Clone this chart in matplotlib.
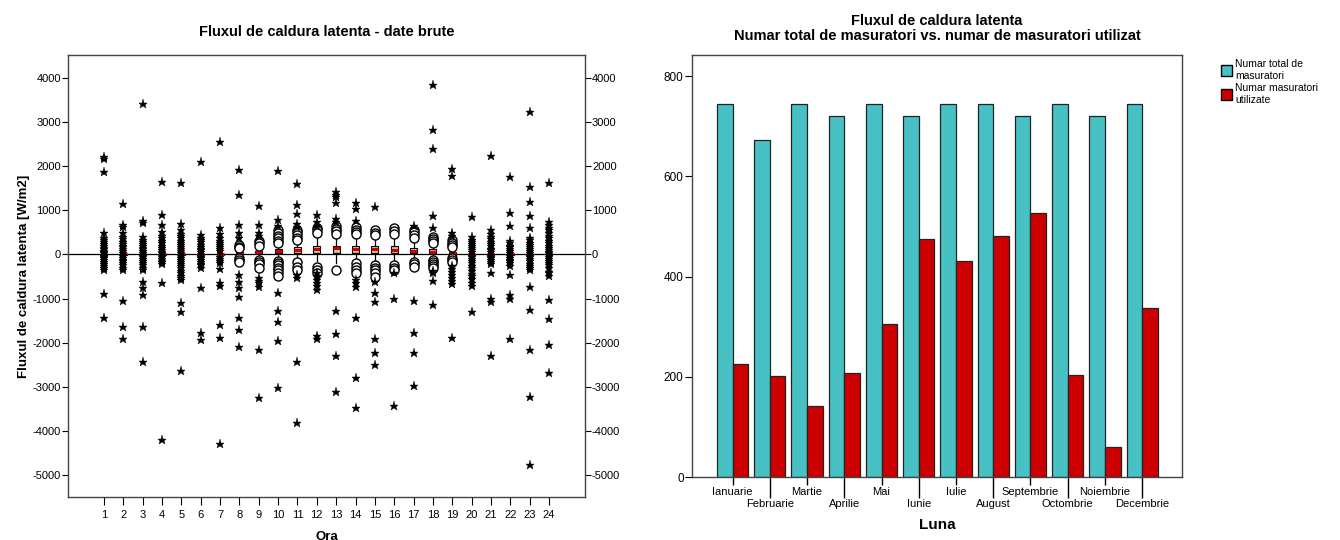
import matplotlib
matplotlib.use("Agg")
import matplotlib.pyplot as plt
from matplotlib.patches import Patch

plt.rcParams["font.family"] = ["Liberation Sans", "DejaVu Sans"]
plt.rcParams["axes.unicode_minus"] = False

# ---- left chart: latent heat flux per hour (raw data) ----
hours = list(range(1, 25))
box_q1 = [-5, -5, -5, -5, -5, -5, -5, 0, 30, 20, 40, 40, 40, 40, 40, 40, 20, 0, -10, -5, -5, -5, -5, -5]
box_med = [0, 0, 0, 0, 0, 0, 5, 20, 50, 70, 100, 115, 135, 113, 113, 105, 83, 60, 20, 5, 5, 5, 5, 5]
box_q3 = [10, 10, 10, 10, 10, 10, 15, 50, 70, 110, 160, 190, 200, 200, 180, 180, 135, 113, 50, 15, 15, 15, 15, 15]
whisker_lo = [-15, -15, -15, -15, -15, -15, -15, -40, -60, -80, -80, -150, -200, -130, -150, -150, -100, -80, -60, -20, -20, -20, -20, -20]
whisker_hi = [25, 25, 25, 25, 25, 25, 30, 110, 150, 200, 240, 400, 420, 380, 400, 400, 320, 200, 120, 30, 30, 30, 30, 30]

circle_vals = [
    [], [], [], [], [], [], [],
    [210, 170, 135, -90, -130, -165],
    [300, 250, 200, -130, -175, -220, -300],
    [560, 480, 420, 360, 300, 250, -150, -200, -250, -300, -350, -420, -480],
    [560, 500, 440, 380, 320, -165, -280, -350],
    [600, 540, 480, -294, -355, -430],
    [650, 580, 520, 470, -355],
    [620, 560, 500, 450, -200, -280, -350, -420],
    [540, 480, 440, -240, -300, -360, -420, -505],
    [590, 530, 470, -240, -300, -355],
    [560, 500, 440, 380, -165, -220, -280],
    [400, 350, 300, 250, -120, -170, -220, -270, -320],
    [320, 260, 210, 160, -80, -130, -180],
    [], [], [], [], [],
]

star_vals = [
    [2200, 2150, 1860, 480, 380, 320, 270, 230, 190, 150, 110, 80, 50, 30, -30, -60, -90, -130, -170, -210, -260, -300, -355, -905, -1430],
    [1140, 660, 620, 480, 400, 340, 290, 240, 200, 160, 120, 80, 40, -40, -80, -120, -160, -200, -250, -300, -355, -1065, -1640, -1920],
    [3400, 755, 700, 400, 330, 280, 230, 190, 150, 110, 70, 30, -30, -70, -110, -150, -200, -250, -300, -355, -620, -770, -920, -1640, -2430],
    [1645, 890, 660, 500, 420, 360, 300, 250, 200, 150, 100, 60, 30, -30, -60, -100, -140, -180, -220, -640, -4200],
    [1615, 680, 550, 470, 410, 360, 310, 260, 210, 160, 120, 80, 40, -40, -80, -120, -170, -220, -270, -320, -370, -430, -480, -530, -580, -1095, -1310, -2630],
    [2080, 445, 380, 320, 270, 220, 170, 130, 90, 50, -50, -90, -130, -170, -210, -250, -300, -755, -1790, -1940],
    [2535, 590, 470, 380, 310, 260, 210, 160, 110, 70, -60, -100, -140, -190, -325, -650, -710, -1600, -1900, -4295],
    [1910, 1350, 665, 475, 360, -470, -620, -770, -960, -1430, -1705, -2100],
    [1095, 656, 490, 420, -540, -600, -650, -730, -2165, -3240],
    [1887, 777, 640, -880, -1290, -1525, -1955, -3035],
    [1590, 1117, 920, 680, 610, -470, -530, -2430, -3810],
    [890, 725, 650, -430, -500, -570, -640, -720, -810, -1850, -1925],
    [1400, 1350, 1300, 1155, 790, 740, -1275, -1800, -2295, -3110],
    [1170, 1026, 750, -580, -650, -730, -1450, -2790, -3470],
    [1072, -620, -880, -1070, -1925, -2225, -2510],
    [-430, -1020, -3420],
    [650, -1055, -1790, -2225, -2975],
    [3835, 2810, 2380, 875, 590, -380, -430, -600, -1150],
    [1930, 1780, 475, 420, -270, -330, -400, -470, -540, -610, -670, -1900],
    [838, 400, 330, 280, 230, 180, 140, 100, 60, -60, -100, -150, -200, -260, -320, -380, -440, -500, -560, -640, -720, -1300],
    [2220, 550, 470, 400, 340, 280, 230, 180, 130, 90, 50, -50, -90, -130, -170, -220, -430, -1000, -1070, -2300],
    [1760, 930, 640, 300, 250, 200, 160, 120, 80, 40, -40, -80, -120, -160, -200, -260, -470, -920, -1020, -1925],
    [3230, 1530, 1190, 875, 600, 380, 320, 260, 210, 160, 110, 70, 30, -30, -70, -110, -160, -210, -260, -310, -360, -730, -1260, -2165, -3220, -4770],
    [1620, 725, 660, 600, 540, 480, 420, 360, 300, 250, 200, 150, 100, 60, 20, -20, -60, -100, -140, -190, -240, -300, -400, -430, -480, -1035, -1465, -2050, -2695],
]

# ---- right chart: measurement counts per month ----
months = ["Ianuarie", "Februarie", "Martie", "Aprilie", "Mai", "Iunie", "Iulie",
          "August", "Septembrie", "Octombrie", "Noiembrie", "Decembrie"]
total_counts = [744, 672, 744, 720, 744, 720, 744, 744, 720, 744, 720, 744]
used_counts = [226, 202, 142, 207, 306, 475, 431, 481, 527, 203, 60, 337]

TEAL = "#48C1C4"
RED = "#CC0000"

fig = plt.figure(figsize=(13.4, 5.4), dpi=100)

# left panel
ax = fig.add_axes([68 / 1340, 43 / 540, 517 / 1340, 442 / 540])
stats = []
for i in range(len(hours)):
    stats.append({"med": box_med[i], "q1": box_q1[i], "q3": box_q3[i],
                  "whislo": whisker_lo[i], "whishi": whisker_hi[i], "fliers": []})
ax.axhline(0, color="black", lw=0.9, zorder=1)
ax.bxp(stats, positions=hours, widths=0.36, patch_artist=True, showfliers=False,
       boxprops={"facecolor": "#D6C68E", "edgecolor": "black", "linewidth": 0.8},
       medianprops={"color": RED, "linewidth": 2.2},
       whiskerprops={"color": "black", "linewidth": 0.9},
       capprops={"color": "black", "linewidth": 0.9}, capwidths=0.0, zorder=3)
for h, vals in zip(hours, circle_vals):
    if vals:
        ax.plot([h] * len(vals), vals, linestyle="none", marker="o", ms=6.5,
                mfc="white", mec="black", mew=1.0, zorder=4)
for h, vals in zip(hours, star_vals):
    ax.plot([h] * len(vals), vals, linestyle="none", marker="*", ms=6.5,
            mfc="black", mec="black", mew=0.3, zorder=4)

ax.set_xlim(-0.86, 25.86)
ax.set_ylim(-5490, 4510)
ax.set_xticks(hours)
ax.set_xticklabels([str(h) for h in hours], fontsize=8)
ax.set_yticks(range(-5000, 4001, 1000))
ax.tick_params(axis="y", labelsize=8, right=True, labelright=True, length=4, pad=1)
ax.tick_params(axis="x", length=6, pad=3)
for s in ax.spines.values():
    s.set_color("#444444")
    s.set_linewidth(1.0)
ax.set_xlabel("Ora", fontsize=9.5, fontweight="bold", labelpad=8)
ax.set_ylabel("Fluxul de caldura latenta [W/m2]", fontsize=9.5, fontweight="bold", labelpad=2)
ax.set_title("Fluxul de caldura latenta - date brute", fontsize=10.5, fontweight="bold", pad=14)

# right panel
ax2 = fig.add_axes([692 / 1340, 63 / 540, 490 / 1340, 422 / 540])
xpos = list(range(len(months)))
bw = 0.42
ax2.bar([x - bw / 2 for x in xpos], total_counts, width=bw, color=TEAL,
        edgecolor="#222222", linewidth=0.9, label="Numar total de\nmasuratori")
ax2.bar([x + bw / 2 for x in xpos], used_counts, width=bw, color=RED,
        edgecolor="#222222", linewidth=0.9, label="Numar masuratori\nutilizate")
ax2.set_xlim(-1.09, 12.07)
ax2.set_ylim(0, 842)
ax2.set_yticks([0, 200, 400, 600, 800])
ax2.tick_params(axis="y", labelsize=8.5, length=5, pad=1)
ax2.set_xticks(xpos[::2])
ax2.set_xticklabels(months[::2], fontsize=8)
ax2.set_xticks(xpos[1::2], minor=True)
ax2.set_xticklabels(months[1::2], minor=True, fontsize=8)
ax2.tick_params(axis="x", which="major", length=6, pad=1.5, width=1.0)
ax2.tick_params(axis="x", which="minor", length=15, pad=1, width=1.0)
for s in ax2.spines.values():
    s.set_color("#444444")
    s.set_linewidth(1.0)
ax2.set_xlabel("Luna", fontsize=11, fontweight="bold", labelpad=6)
ax2.set_title("Fluxul de caldura latenta\nNumar total de masuratori vs. numar de masuratori utilizat",
              fontsize=10.5, fontweight="bold", pad=11, linespacing=1.1)

handles = [Patch(facecolor=TEAL, edgecolor="black", label="Numar total de\nmasuratori"),
           Patch(facecolor=RED, edgecolor="black", label="Numar masuratori\nutilizate")]
fig.legend(handles=handles, loc="upper left", bbox_to_anchor=(1212 / 1340, 1 - 50 / 540),
           frameon=False, fontsize=7.5, handlelength=1.0, handleheight=1.2,
           handletextpad=0.3, labelspacing=0.2)

fig.savefig("out.png", dpi=100)
